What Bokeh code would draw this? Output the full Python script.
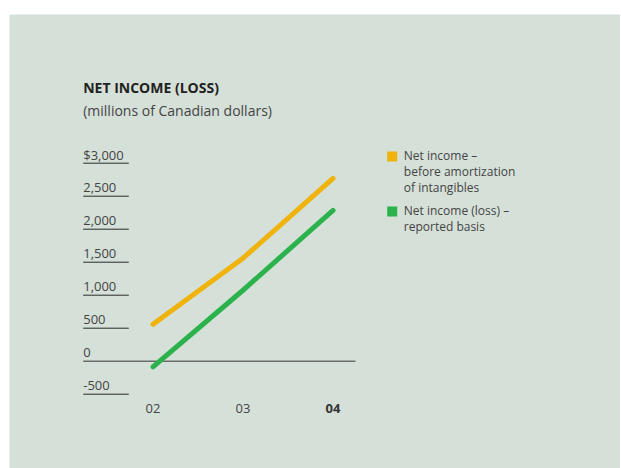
from bokeh.plotting import figure
from bokeh.layouts import column, row
from bokeh.models import Spacer
from bokeh.embed import file_html
from bokeh.resources import INLINE
from bokeh.core.properties import value

# ---- data ----
years = ["02", "03", "04"]
before_amort = [560, 1560, 2770]
reported = [-85, 1075, 2285]
tick_values = [-500, 0, 500, 1000, 1500, 2000, 2500, 3000]
tick_labels = ["-500", "0", "500", "1,000", "1,500", "2,000", "2,500", "$3,000"]
title_text = "NET INCOME (LOSS)"
subtitle_text = "(millions of Canadian dollars)"
legend_labels = [["Net income \u2013", "before amortization", "of intangibles"],
                 ["Net income (loss) \u2013", "reported basis"]]

BG = "#d5e0d8"
ORANGE = "#efb30c"
GREEN = "#2cb24c"
FONT = value("Open Sans")

W, H = 611, 454
OX, OY = 9, 14  # page offset of the figure
CAT0_PX, CAT_STEP = 152.5, 90.0
ZERO_PY, PX_PER_UNIT = 360.7, 0.066


def X(px):
    return (px - CAT0_PX) / CAT_STEP


def Y(py):
    return (ZERO_PY - py) / PX_PER_UNIT


def TY(baseline_py, size):
    # centre of capitals for a given baseline (text drawn with 'middle')
    return Y(baseline_py - 0.36 * size)


p = figure(width=W, height=H, output_backend="svg", toolbar_location=None,
           x_range=(X(OX), X(OX + W)), y_range=(Y(OY + H), Y(OY)),
           min_border=0, outline_line_color=None,
           background_fill_color=BG, border_fill_color=BG)
p.axis.visible = False
p.grid.visible = False

# tick rules and labels
label_x = X(82.7)
short_end = X(128.3)
zero_end = X(355)
nz = [v for v in tick_values if v != 0]
p.segment(x0=[label_x] * len(nz), x1=[short_end] * len(nz), y0=nz, y1=nz,
          line_color="#2a2a2a", line_width=1)
p.segment(x0=[label_x], x1=[zero_end], y0=[0], y1=[0],
          line_color="#6b6b6b", line_width=1.6)
p.text(x=[label_x] * len(tick_values),
       y=[TY(ZERO_PY - v * PX_PER_UNIT - 3.6, 13) for v in tick_values],
       text=tick_labels, text_font=FONT, text_font_size="13px",
       text_color="#444444", text_baseline="middle", text_align="left")

# lines
cat_x = list(range(len(years)))
p.line(cat_x, before_amort, line_color=ORANGE, line_width=5,
       line_cap="round", line_join="round")
p.line(cat_x, reported, line_color=GREEN, line_width=5,
       line_cap="round", line_join="round")

# x labels
x_lab_y = TY(413, 13)
p.text(x=cat_x[:-1], y=[x_lab_y] * (len(years) - 1), text=years[:-1],
       text_font=FONT, text_font_size="13px", text_color="#444444",
       text_align="center", text_baseline="middle")
p.text(x=[cat_x[-1]], y=[x_lab_y], text=[years[-1]],
       text_font=FONT, text_font_size="13px", text_font_style="bold",
       text_color="#333333", text_align="center", text_baseline="middle")

# titles
p.text(x=[label_x], y=[TY(92.5, 14)], text=[title_text], text_font=FONT,
       text_font_size="14px", text_font_style="bold", text_color="#222222",
       text_baseline="middle")
p.text(x=[label_x], y=[TY(115.5, 14)], text=[subtitle_text], text_font=FONT,
       text_font_size="14px", text_color="#444444", text_baseline="middle")

# legend
sq_x = X(391.7)
p.rect(x=[sq_x, sq_x], y=[Y(156), Y(211)], width=10, height=10,
       width_units="screen", height_units="screen",
       fill_color=[ORANGE, GREEN], line_color=None)
leg_x = X(403.3)
starts = [159.5, 214.5]
lx, ly, lt = [], [], []
for s, lines in zip(starts, legend_labels):
    for i, t in enumerate(lines):
        lx.append(leg_x)
        ly.append(TY(s + 16 * i, 12))
        lt.append(t)
p.text(x=lx, y=ly, text=lt, text_font=FONT, text_font_size="12px",
       text_color="#444444", text_baseline="middle")

layout = column(Spacer(height=OY, width=OX + W),
                row(Spacer(width=OX, height=H), p))
open("out.html", "w").write(file_html(layout, INLINE))
